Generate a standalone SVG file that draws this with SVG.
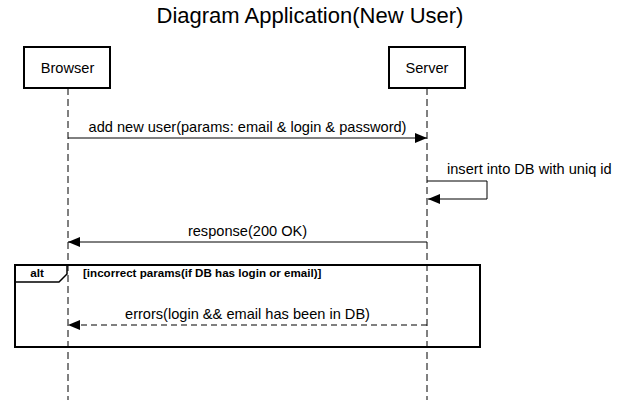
<svg xmlns="http://www.w3.org/2000/svg" width="620" height="400" viewBox="0 0 620 400">
<style>
text{font-family:"Liberation Sans",Arial,sans-serif;fill:#000}
.box{fill:#fff;stroke:#000;stroke-width:2}
.life{stroke:#000;stroke-width:1;stroke-dasharray:7,4;fill:none}
.msg{stroke:#000;stroke-width:1;fill:none}
.dash{stroke-dasharray:6,4}
.lbl{font-size:14.6px;text-anchor:middle}
.frm{font-size:11.6px;font-weight:bold}
</style>
<defs>
<marker id="ah" viewBox="0 0 12 10" refX="12" refY="5" markerWidth="12" markerHeight="10" markerUnits="userSpaceOnUse" orient="auto">
<path d="M0,0 L12,5 L0,10 Z" fill="#000"/>
</marker>
</defs>
<rect width="620" height="400" fill="#fff"/>
<text x="310" y="23" font-size="22" text-anchor="middle">Diagram Application(New User)</text>
<g id="browser">
<line class="life" x1="68" y1="88" x2="68" y2="400"/>
<rect class="box" x="24" y="47" width="86" height="41"/>
<text class="lbl" x="67.5" y="73">Browser</text>
</g>
<g id="server">
<line class="life" x1="427" y1="88" x2="427" y2="400"/>
<rect class="box" x="389" y="47" width="76" height="41"/>
<text class="lbl" x="427" y="73">Server</text>
</g>
<g id="alt-frame">
<rect x="15" y="265" width="465" height="82" fill="none" stroke="#000" stroke-width="2"/>
<path d="M15,282 L59,282 L67,274 L67,265" fill="none" stroke="#000" stroke-width="1.5"/>
<text class="frm" x="37" y="277" text-anchor="middle">alt</text>
<text class="frm" x="83" y="277">[incorrect params(if DB has login or email)]</text>
</g>
<g id="connectors">
<line class="msg" x1="68" y1="138" x2="427" y2="138" marker-end="url(#ah)"/>
<text class="lbl" x="247.5" y="132">add new user(params: email &amp; login &amp; password)</text>
<path class="msg" d="M427,181 L487,181 L487,199 L428,199" marker-end="url(#ah)"/>
<text x="447" y="174" font-size="14.6">insert into DB with uniq id</text>
<line class="msg" x1="427" y1="242" x2="68" y2="242" marker-end="url(#ah)"/>
<text class="lbl" x="247.5" y="236">response(200 OK)</text>
<line class="msg dash" x1="427" y1="325" x2="68" y2="325" marker-end="url(#ah)"/>
<text class="lbl" x="247.5" y="319">errors(login &amp;&amp; email has been in DB)</text>
</g>
</svg>
